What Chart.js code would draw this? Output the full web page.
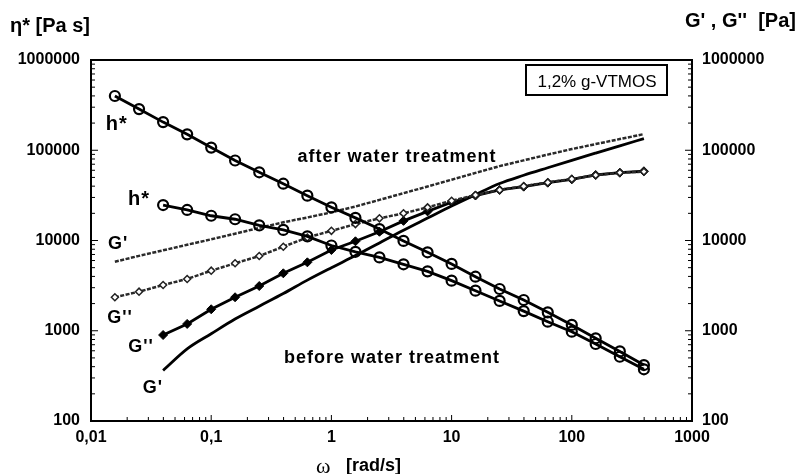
<!DOCTYPE html>
<html>
<head>
<meta charset="utf-8">
<script src="https://cdn.jsdelivr.net/npm/chart.js@4.4.1/dist/chart.umd.min.js"></script>
<style>
  body { margin: 0; background: #fff; }
  canvas { display: block; }
</style>
</head>
<body>
<canvas id="myChart" width="801" height="474"></canvas>
<script>
// angular frequency [rad/s]
const freq = [0.0158, 0.0251, 0.0398, 0.0631, 0.1, 0.158, 0.251, 0.398, 0.631, 1, 1.585, 2.51,
              3.98, 6.31, 10, 15.8, 25.1, 39.8, 63.1, 100, 158, 251, 398];

// complex viscosity [Pa s]
const etaAfter = [399000, 286000, 205000, 150000, 107000, 77000, 57000, 42600, 31400, 23300, 17800, 13400,
                  9900, 7400, 5500, 3970, 2900, 2190, 1600, 1160, 825, 590, 417];
const etaBefore = [null, null, 24700, 21800, 18800, 17200, 14700, 13100, 11100, 8800, 7500, 6500,
                   5450, 4550, 3590, 2780, 2140, 1650, 1260, 977, 713, 515, 374];

// moduli [Pa]
const gpAfter = [5820, 6760, 7780, 8970, 10300, 11900, 13800, 15900, 18000, 20500, 23800, 28200,
                 33400, 39700, 47200, 56100, 66700, 77300, 89500, 103000, 117000, 133000, 151000];
const gppAfter = [2350, 2710, 3210, 3750, 4630, 5590, 6730, 8540, 10800, 12800, 15200, 17600,
                  20000, 23300, 27600, 31900, 36300, 40000, 44000, 48000, 53000, 56500, 58000];
const gpBefore = [null, null, 363, 630, 927, 1350, 1870, 2580, 3640, 5000, 6800, 9400,
                  13000, 17700, 24100, 32200, 42800, 52800, 64000, 77400, 93100, 112000, 134600];
const gppBefore = [null, null, 897, 1190, 1730, 2350, 3130, 4330, 5730, 7850, 9800, 12500,
                   16500, 21000, 26500, 31500, 36300, 39500, 43700, 47600, 53200, 56400, 58500];

const xTicks = [0.01, 0.1, 1, 10, 100, 1000];
const yTicks = [100, 1000, 10000, 100000, 1000000];

// curve labels, placed at (omega, value)
const notes = [
    { text: "h*", x: 0.0164, y: 195000 },
    { text: "h*", x: 0.0251, y: 28800 },
    { text: "after water treatment", x: 3.51, y: 84100 },
    { text: "G'", x: 0.0168, y: 9150 },
    { text: "G''", x: 0.0174, y: 1385 },
    { text: "G''", x: 0.0261, y: 661 },
    { text: "G'", x: 0.0328, y: 232 },
    { text: "before water treatment", x: 3.19, y: 499 }
];

const pts = arr => freq.map((w, i) => ({ x: w, y: arr[i] })).filter(p => p.y !== null);

const FONT = "'Liberation Sans', Arial, sans-serif";

const frame = {
    id: "frame",
    afterDatasetsDraw(chart) {
        const { ctx, chartArea: a, scales } = chart;
        ctx.save();
        ctx.strokeStyle = "#000";
        ctx.lineWidth = 1;
        ctx.beginPath();
        for (let d = -2; d <= 2; d++) {
            for (let m = 1; m <= 9; m++) {
                const px = scales.x.getPixelForValue(m * Math.pow(10, d));
                const len = m === 1 ? 6 : 4;
                ctx.moveTo(px, a.bottom);
                ctx.lineTo(px, a.bottom - len);
            }
        }
        for (let d = 2; d <= 5; d++) {
            for (let m = 1; m <= 9; m++) {
                const py = scales.y.getPixelForValue(m * Math.pow(10, d));
                const len = m === 1 ? 7 : 4;
                ctx.moveTo(a.left, py);
                ctx.lineTo(a.left + len, py);
                ctx.moveTo(a.right, py);
                ctx.lineTo(a.right - len, py);
            }
        }
        ctx.stroke();
        ctx.lineWidth = 2;
        ctx.strokeRect(a.left, a.top, a.right - a.left, a.bottom - a.top);

        // curve labels
        ctx.fillStyle = "#000";
        ctx.textAlign = "center";
        ctx.textBaseline = "middle";
        ctx.letterSpacing = "1px";
        notes.forEach(n => {
            ctx.font = (n.text === "h*" ? "bold 20px " : "bold 18px ") + FONT;
            ctx.fillText(n.text, scales.x.getPixelForValue(n.x), scales.y.getPixelForValue(n.y));
        });
        ctx.letterSpacing = "0px";

        // sample box
        ctx.lineWidth = 2;
        ctx.strokeRect(526, 65, 141, 30);
        ctx.font = "17px " + FONT;
        ctx.fillText("1,2% g-VTMOS", 597, 82);

        // axis titles
        ctx.font = "bold 20px " + FONT;
        ctx.textAlign = "left";
        ctx.fillText("η* [Pa s]", 10, 26);
        ctx.fillText("G' , G''  [Pa]", 685, 21);
        ctx.font = "22px 'Liberation Serif', serif";
        ctx.fillText("ω", 316, 467);
        ctx.font = "bold 18px " + FONT;
        ctx.fillText("[rad/s]", 346, 466);
        ctx.restore();
    }
};

document.addEventListener("DOMContentLoaded", function () {
    const ctx = document.getElementById("myChart").getContext("2d");

    new Chart(ctx, {
        type: "line",
        data: {
            datasets: [
                {
                    label: "eta* after",
                    data: pts(etaAfter),
                    yAxisID: "y",
                    borderColor: "#000",
                    borderWidth: 2.8,
                    pointStyle: "circle",
                    pointRadius: 5,
                    pointBorderWidth: 2.2,
                    pointBorderColor: "#000",
                    pointBackgroundColor: "rgba(0,0,0,0)"
                },
                {
                    label: "eta* before",
                    data: pts(etaBefore),
                    yAxisID: "y",
                    borderColor: "#000",
                    borderWidth: 2.8,
                    pointStyle: "circle",
                    pointRadius: 5,
                    pointBorderWidth: 2.2,
                    pointBorderColor: "#000",
                    pointBackgroundColor: "rgba(0,0,0,0)"
                },
                {
                    label: "G' after",
                    data: pts(gpAfter),
                    yAxisID: "y2",
                    borderColor: "#2a2a2a",
                    borderWidth: 2.5,
                    borderDash: [4, 1.5],
                    pointRadius: 0
                },
                {
                    label: "G'' after",
                    data: pts(gppAfter),
                    yAxisID: "y2",
                    borderColor: "#2a2a2a",
                    borderWidth: 2.5,
                    borderDash: [4, 1.5],
                    pointStyle: "rectRot",
                    pointRadius: 3.5,
                    pointBorderWidth: 1.5,
                    pointBorderColor: "#222",
                    pointBackgroundColor: "#fff"
                },
                {
                    label: "G' before",
                    data: pts(gpBefore),
                    yAxisID: "y2",
                    borderColor: "#000",
                    borderWidth: 2.8,
                    cubicInterpolationMode: "monotone",
                    pointRadius: 0
                },
                {
                    label: "G'' before",
                    data: pts(gppBefore),
                    yAxisID: "y2",
                    borderColor: "#000",
                    borderWidth: 2.8,
                    pointStyle: "rectRot",
                    pointRadius: 4.5,
                    pointBorderWidth: 1,
                    pointBorderColor: "#000",
                    pointBackgroundColor: "#000"
                }
            ]
        },
        options: {
            responsive: false,
            animation: false,
            devicePixelRatio: 1,
            layout: { padding: { top: 60, left: 0, right: 0, bottom: 0 } },
            plugins: {
                legend: { display: false },
                tooltip: { enabled: false }
            },
            scales: {
                x: {
                    type: "logarithmic",
                    min: 0.01,
                    max: 1000,
                    grid: { display: false, drawTicks: false },
                    border: { display: false },
                    afterBuildTicks: s => { s.ticks = xTicks.map(v => ({ value: v })); },
                    afterFit: s => { s.height = 53; },
                    ticks: {
                        autoSkip: false,
                        maxRotation: 0,
                        padding: 7,
                        color: "#000",
                        font: { family: FONT, size: 16, weight: "bold" },
                        callback: v => String(v).replace(".", ",")
                    }
                },
                y: {
                    type: "logarithmic",
                    position: "left",
                    min: 100,
                    max: 1000000,
                    grid: { display: false, drawTicks: false },
                    border: { display: false },
                    afterBuildTicks: s => { s.ticks = yTicks.map(v => ({ value: v })); },
                    afterFit: s => { s.width = 91; },
                    ticks: {
                        autoSkip: false,
                        padding: 11,
                        color: "#000",
                        font: { family: FONT, size: 16, weight: "bold" },
                        callback: v => String(v)
                    }
                },
                y2: {
                    type: "logarithmic",
                    position: "right",
                    min: 100,
                    max: 1000000,
                    grid: { display: false, drawTicks: false },
                    border: { display: false },
                    afterBuildTicks: s => { s.ticks = yTicks.map(v => ({ value: v })); },
                    afterFit: s => { s.width = 109; },
                    ticks: {
                        autoSkip: false,
                        padding: 10,
                        color: "#000",
                        font: { family: FONT, size: 16, weight: "bold" },
                        callback: v => String(v)
                    }
                }
            }
        },
        plugins: [frame]
    });
});
</script>
</body>
</html>
